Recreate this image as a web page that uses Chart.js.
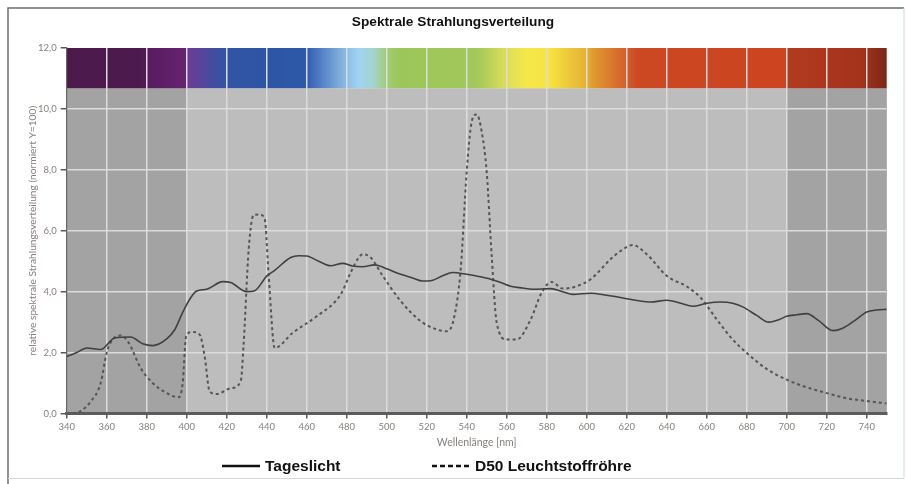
<!DOCTYPE html>
<html>
<head>
<meta charset="utf-8">
<script src="https://cdn.jsdelivr.net/npm/chart.js@4.4.1/dist/chart.umd.min.js"></script>
<style>
  html, body { margin: 0; padding: 0; background: #fff; }
  #wrap { position: relative; width: 906px; height: 484px; }
</style>
</head>
<body>
<div id="wrap"><canvas id="chart" width="906" height="484"></canvas></div>
<script>
// Tageslicht (solid line)
const tageslichtNm = [340, 345, 350, 357, 364, 372, 378, 383, 390, 394, 398, 402, 405, 410, 418, 422, 430, 434,
  440, 444, 452, 456, 460, 466, 472, 478, 483, 488, 494, 500, 507, 513, 518, 522, 528, 533, 540, 546, 552, 557,
  562, 568, 573, 582, 588, 593, 602, 610, 620, 626, 632, 640, 647, 653, 660, 667, 673, 678, 685, 691, 696, 700,
  705, 710, 716, 723, 728, 734, 740, 745, 750];
const tageslichtWert = [1.87, 2.0, 2.15, 2.10, 2.48, 2.51, 2.29, 2.23, 2.45, 2.75, 3.32, 3.80, 4.02, 4.08, 4.33, 4.30, 4.00, 4.03,
  4.51, 4.70, 5.12, 5.18, 5.17, 5.00, 4.85, 4.93, 4.84, 4.82, 4.88, 4.75, 4.57, 4.45, 4.35, 4.36, 4.52, 4.63, 4.57, 4.50, 4.41, 4.30,
  4.18, 4.12, 4.08, 4.10, 4.00, 3.91, 3.95, 3.88, 3.77, 3.70, 3.66, 3.72, 3.62, 3.52, 3.62, 3.66, 3.62, 3.50, 3.22, 3.00, 3.08, 3.19,
  3.24, 3.28, 3.05, 2.72, 2.80, 3.05, 3.33, 3.40, 3.42];

// D50 Leuchtstoffröhre (dashed line)
const d50Nm = [340, 344, 347, 352, 357, 360, 363, 367, 371, 377, 383, 390, 396, 398, 399.7, 402.5, 406.5, 409, 411.5, 415,
  422, 427, 428.5, 431, 433.5, 436.5, 439, 441, 444, 453, 465, 477, 482, 486, 488, 492, 498, 507, 517, 525, 530, 533.5,
  537, 540, 542.5, 545, 547.5, 550, 552.5, 555, 560, 565, 572, 577.5, 582.5, 588, 595, 602, 612, 617, 623, 630, 640, 650,
  657, 665, 673, 680, 690, 700, 710, 720, 730, 740, 750];
const d50Wert = [0.0, 0.02, 0.08, 0.39, 1.0, 2.0, 2.43, 2.56, 2.32, 1.49, 1.0, 0.67, 0.53, 1.0, 2.53, 2.68, 2.59, 1.87, 0.72, 0.64,
  0.83, 1.05, 2.32, 5.40, 6.52, 6.53, 6.39, 4.52, 2.15, 2.65, 3.19, 3.91, 4.63, 5.12, 5.23, 5.12, 4.52, 3.69, 3.03, 2.76, 2.70, 3.09,
  4.74, 7.93, 9.58, 9.82, 9.25, 7.93, 5.17, 2.98, 2.43, 2.43, 3.09, 3.97, 4.32, 4.10, 4.18, 4.41, 5.07, 5.34, 5.53, 5.23, 4.52, 4.17,
  3.80, 3.09, 2.43, 1.99, 1.46, 1.11, 0.86, 0.67, 0.50, 0.41, 0.33];

// spectrum band on top: wavelength stops and their colours
const spektrumNm = [340, 378, 381, 399, 401, 418, 440, 460, 462, 478, 486, 493, 500, 506, 545, 560, 570, 582, 600, 603, 618, 626, 700, 701, 738, 750];
const spektrumFarbe = ['#4b1a4a', '#4d1a4e', '#581c5e', '#66226f', '#6b3c96', '#3454a4', '#2c55a4', '#2e59a9', '#3a66b8', '#86b4e0',
  '#a0d4f2', '#a4d4d0', '#a2cc78', '#9cc65a', '#a2c85a', '#dede5a', '#f6e84a', '#f6e240', '#e4b034', '#e09c30', '#d4642a', '#cc4822',
  '#cc4420', '#b23a1e', '#a3321c', '#7a2616'];

// shaded wavelength ranges (outside visible range)
const dunkelBereiche = [[340, 400], [700, 750]];
const bandUnten = 10.68;

const xMin = 340, xMax = 750;
const titel = 'Spektrale Strahlungsverteilung';
const legendeStart = [222, 432];

const hintergrund = {
  id: 'hintergrund',
  beforeDraw(chart) {
    const ctx = chart.ctx;
    const xs = chart.scales.x, ys = chart.scales.y;
    const a = chart.chartArea;
    ctx.save();
    // frame
    ctx.strokeStyle = '#6e6e6e';
    ctx.lineWidth = 1.5;
    ctx.beginPath();
    ctx.moveTo(8, 484); ctx.lineTo(8, 8); ctx.lineTo(904, 8);
    ctx.stroke();
    ctx.strokeStyle = '#d4d8dc';
    ctx.lineWidth = 1;
    ctx.beginPath();
    ctx.moveTo(904, 8); ctx.lineTo(904, 478.5); ctx.lineTo(8, 478.5);
    ctx.stroke();

    // title
    ctx.font = 'bold 13.7px "Liberation Sans", Arial, sans-serif';
    ctx.fillStyle = '#111';
    ctx.textAlign = 'center';
    ctx.textBaseline = 'middle';
    ctx.fillText(titel, 453, 22);

    const yb = ys.getPixelForValue(bandUnten);
    // grey plot area
    ctx.fillStyle = '#bdbdbd';
    ctx.fillRect(a.left, yb, a.right - a.left, a.bottom - yb);
    ctx.fillStyle = '#a3a3a3';
    dunkelBereiche.forEach(([v0, v1]) => {
      const x0 = xs.getPixelForValue(v0), x1 = xs.getPixelForValue(v1);
      ctx.fillRect(x0, yb, x1 - x0, a.bottom - yb);
    });
    // spectrum band
    const xl = xs.getPixelForValue(xMin), xr = xs.getPixelForValue(xMax);
    const grad = ctx.createLinearGradient(xl, 0, xr, 0);
    spektrumNm.forEach((nm, i) => grad.addColorStop((nm - xMin) / (xMax - xMin), spektrumFarbe[i]));
    ctx.fillStyle = grad;
    const yt = ys.getPixelForValue(12);
    ctx.fillRect(xl, yt, xr - xl, yb - yt);
    ctx.restore();
  },
  afterDraw(chart) {
    // legend at the bottom
    const ctx = chart.ctx;
    ctx.save();
    ctx.font = 'bold 15.5px "Liberation Sans", Arial, sans-serif';
    ctx.fillStyle = '#111';
    ctx.textBaseline = 'middle';
    const y = 466;
    chart.data.datasets.forEach((ds, i) => {
      const x = legendeStart[i];
      ctx.strokeStyle = '#111';
      ctx.lineWidth = 2.5;
      ctx.setLineDash(ds.borderDash && ds.borderDash.length ? [5, 3] : []);
      ctx.beginPath();
      ctx.moveTo(x, y); ctx.lineTo(x + 38, y);
      ctx.stroke();
      ctx.setLineDash([]);
      ctx.fillText(ds.label, x + 43, y + 1);
    });
    ctx.restore();
  }
};

const tickFont = { family: 'Lato, "Open Sans", sans-serif', size: 9.5 };
const tickColor = '#8a7e7e';

new Chart(document.getElementById('chart'), {
  type: 'line',
  data: {
    datasets: [
      {
        label: 'Tageslicht',
        data: tageslichtNm.map((nm, i) => ({ x: nm, y: tageslichtWert[i] })),
        borderColor: '#404040',
        borderWidth: 1.6,
        pointRadius: 0,
        cubicInterpolationMode: 'monotone',
        fill: false
      },
      {
        label: 'D50 Leuchtstoffröhre',
        data: d50Nm.map((nm, i) => ({ x: nm, y: d50Wert[i] })),
        borderColor: '#555555',
        borderWidth: 2,
        borderDash: [3, 3],
        pointRadius: 0,
        cubicInterpolationMode: 'monotone',
        fill: false
      }
    ]
  },
  options: {
    responsive: false,
    animation: false,
    devicePixelRatio: 1,
    layout: { padding: { top: 48, left: 0, right: 19.3, bottom: 0 } },
    plugins: {
      legend: { display: false },
      tooltip: { enabled: false },
      title: { display: false }
    },
    scales: {
      x: {
        type: 'linear',
        min: xMin,
        max: xMax,
        afterFit(scale) { scale.height = 70.5; },
        ticks: {
          stepSize: 20,
          includeBounds: false,
          autoSkip: false,
          maxRotation: 0,
          font: tickFont,
          color: tickColor,
          padding: 3
        },
        grid: {
          color: ctx => (ctx.tick && ctx.tick.value === xMin) ? 'rgba(0,0,0,0)' : '#dcdcdc',
          lineWidth: 1.5,
          tickColor: '#5a5a5a',
          tickLength: 5
        },
        border: { color: '#5c5c5c', width: 3 },
        title: {
          display: true,
          text: 'Wellenlänge [nm]',
          color: tickColor,
          font: { family: 'Lato, "Open Sans", sans-serif', size: 10.5 },
          padding: { top: 0, bottom: 35 }
        }
      },
      y: {
        min: 0,
        max: 12,
        afterFit(scale) { scale.width = 66.7; },
        ticks: {
          stepSize: 2,
          font: tickFont,
          color: tickColor,
          padding: 4,
          callback: v => v.toFixed(1).replace('.', ',')
        },
        grid: {
          color: ctx => (ctx.tick && (ctx.tick.value === 0 || ctx.tick.value === 12)) ? 'rgba(0,0,0,0)' : '#dcdcdc',
          lineWidth: 1.5,
          tickColor: '#5a5a5a',
          tickLength: 6
        },
        border: { color: '#666', width: 1.2 },
        title: {
          display: true,
          text: 'relative spektrale Strahlungsverteilung (normiert Y=100)',
          color: tickColor,
          font: { family: 'Lato, "Open Sans", sans-serif', size: 10.2 },
          padding: { top: 27, bottom: 0 }
        }
      }
    }
  },
  plugins: [hintergrund]
});
</script>
</body>
</html>
